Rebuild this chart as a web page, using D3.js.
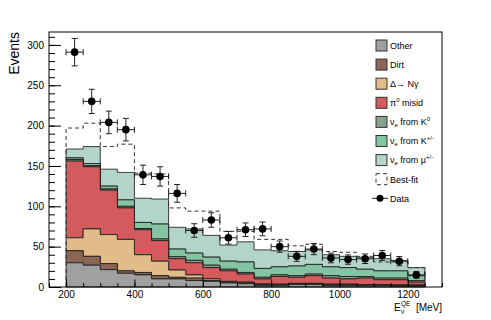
<!DOCTYPE html>
<html>
<head>
<meta charset="utf-8">
<script src="https://cdn.jsdelivr.net/npm/d3@7"></script>
<style>
  body { margin: 0; background: #fff; }
  svg { display: block; font-family: "Liberation Sans", Arial, sans-serif; }
  .axis text { font-size: 10px; fill: #000; }
  .axis line { stroke: #000; }
  .leg text { font-size: 9px; fill: #000; }
</style>
</head>
<body>
<div id="chart"></div>
<script>
// bins: 50 MeV wide, 200 -> 1250
const binEdges = d3.range(200, 1251, 50);
const binCenters = [225, 275, 325, 375, 425, 475, 525, 575, 625, 675, 725,
  775, 825, 875, 925, 975, 1025, 1075, 1125, 1175, 1225];

// stacked contributions per bin (events)
const other = [30, 27, 21.5, 17, 15, 10, 10, 8, 7, 5, 4, 2, 2, 3, 3, 2, 2, 1.5, 1.5, 1, 1];
const dirt  = [15, 11, 7.5, 3, 3, 4, 2, 3, 1, 1, 1, 1, 1, 1, 1, 1, 1, 1, 1, 1, 1];
const delta = [16, 34, 36, 39, 22, 18, 9, 4, 2, 1, 1, 1, 0.5, 0.5, 0.5, 0.5, 0.5, 0.5, 0.5, 0.5, 0.5];
const pi0   = [95, 77, 55, 39, 31, 25.5, 14, 15, 14, 13, 10, 6, 9.5, 7.5, 9.5, 7.5, 6.5, 8, 6, 6.5, 3.5];
const nueK0 = [2, 1.5, 1.5, 2, 1.5, 2, 2.5, 3, 3, 2, 2, 2, 2, 2, 2, 3, 3, 2, 2, 2, 2];
const nueKpm = [2, 2.5, 3.5, 8, 7.5, 18.5, 9.5, 9, 10, 10, 13, 11, 10, 12, 12, 11, 11, 9, 9, 9, 6];
const nueMu = [11, 21, 21, 34, 30, 31, 27, 30, 27, 20, 25, 23, 20, 18, 18, 15, 14, 15, 15, 13, 10];

const bestFit = [197, 203, 174, 177, 141, 140, 98, 94, 94, 69, 69, 59, 59, 51, 53, 44, 43, 38, 31, 31, 24];

const dataVals = [291, 230, 204, 195, 139, 137, 116, 70, 83, 61, 71, 72, 50, 38, 47, 36, 34, 35, 39, 32, 15];
const dataErr  = [17, 15, 14, 14, 12, 12, 11, 8.4, 9, 7.8, 8.4, 8.5, 7, 6.2, 6.9, 6, 5.8, 5.9, 6.2, 5.7, 3.9];

const xTicks = [200, 400, 600, 800, 1000, 1200];
const yTicks = [0, 50, 100, 150, 200, 250, 300];

const layers = [
  { key: "other", vals: other, color: "#a0a0a0" },
  { key: "dirt", vals: dirt, color: "#8c6555" },
  { key: "delta", vals: delta, color: "#e1bb88" },
  { key: "pi0", vals: pi0, color: "#d45a5e" },
  { key: "k0", vals: nueK0, color: "#86a28c" },
  { key: "kpm", vals: nueKpm, color: "#84c4a2" },
  { key: "mu", vals: nueMu, color: "#b3d4c8" }
];

const W = 491, H = 320;
const frame = { l: 49, t: 32, r: 442, b: 287 };

const svg = d3.select("#chart").append("svg").attr("width", W).attr("height", H);

const x = d3.scaleLinear().domain([150, 1300]).range([frame.l, frame.r]);
const y = d3.scaleLinear().domain([0, 316]).range([frame.b, frame.t]);

// stack
const table = binCenters.map((c, i) => {
  const row = { i };
  layers.forEach(L => row[L.key] = L.vals[i]);
  return row;
});
const stacked = d3.stack().keys(layers.map(L => L.key))(table);

// step points: one per edge, last edge repeats last bin
function stepPts(arr) {
  return binEdges.map((e, i) => ({ x: e, v: arr[Math.min(i, arr.length - 1)] }));
}

const area = d3.area().curve(d3.curveStepAfter)
  .x(d => x(d.x)).y0(d => y(d.v[0])).y1(d => y(d.v[1]));

const gStack = svg.append("g");
stacked.slice().reverse().forEach(s => {
  const L = layers.find(l => l.key === s.key);
  gStack.append("path")
    .datum(stepPts(s))
    .attr("d", area)
    .attr("fill", L.color)
    .attr("stroke", "#1e1e1e")
    .attr("stroke-opacity", 0.85)
    .attr("stroke-width", 1);
});

// best-fit dashed outline
const bfPts = [{ x: binEdges[0], v: 0 }].concat(stepPts(bestFit)).concat([{ x: binEdges[binEdges.length - 1], v: 0 }]);
const bfLine = d3.line().curve(d3.curveStepAfter).x(d => x(d.x)).y(d => y(d.v));
svg.append("path")
  .datum(bfPts)
  .attr("d", bfLine)
  .attr("fill", "none")
  .attr("stroke", "#333")
  .attr("stroke-width", 1)
  .attr("stroke-dasharray", "4,3");

// data points
const gData = svg.append("g").attr("stroke", "#222").attr("stroke-width", 1);
binCenters.forEach((c, i) => {
  const cx = x(c), cy = y(dataVals[i]);
  const xl = x(c - 25), xr = x(c + 25);
  const yt = y(dataVals[i] + dataErr[i]), yb = y(dataVals[i] - dataErr[i]);
  gData.append("line").attr("x1", xl).attr("x2", xr).attr("y1", cy).attr("y2", cy);
  gData.append("line").attr("x1", xl).attr("x2", xl).attr("y1", cy - 3).attr("y2", cy + 3);
  gData.append("line").attr("x1", xr).attr("x2", xr).attr("y1", cy - 3).attr("y2", cy + 3);
  gData.append("line").attr("x1", cx).attr("x2", cx).attr("y1", yt).attr("y2", yb);
  gData.append("line").attr("x1", cx - 3).attr("x2", cx + 3).attr("y1", yt).attr("y2", yt);
  gData.append("line").attr("x1", cx - 3).attr("x2", cx + 3).attr("y1", yb).attr("y2", yb);
});
svg.append("g").selectAll("circle")
  .data(binCenters)
  .join("circle")
  .attr("cx", d => x(d))
  .attr("cy", (d, i) => y(dataVals[i]))
  .attr("r", 3.8)
  .attr("fill", "#000");

// axes (ROOT style, ticks inside)
const yAxis = svg.append("g").attr("class", "axis").attr("transform", `translate(${frame.l},0)`)
  .call(d3.axisLeft(y).tickValues(yTicks).tickSizeInner(-12).tickSizeOuter(0).tickPadding(5).tickFormat(d3.format("d")));
const yMinor = svg.append("g").attr("class", "axis").attr("transform", `translate(${frame.l},0)`)
  .call(d3.axisLeft(y).tickValues(d3.range(0, 316, 10)).tickSize(-6).tickFormat(""));
const xAxis = svg.append("g").attr("class", "axis").attr("transform", `translate(0,${frame.b})`)
  .call(d3.axisBottom(x).tickValues(xTicks).tickSizeInner(-7.5).tickSizeOuter(0).tickPadding(4).tickFormat(d3.format("d")));
const xMinor = svg.append("g").attr("class", "axis").attr("transform", `translate(0,${frame.b})`)
  .call(d3.axisBottom(x).tickValues(d3.range(150, 1301, 50)).tickSize(-3.8).tickFormat(""));
[yAxis, yMinor, xAxis, xMinor].forEach(a => a.select(".domain").remove());

svg.append("rect")
  .attr("x", frame.l).attr("y", frame.t)
  .attr("width", frame.r - frame.l).attr("height", frame.b - frame.t)
  .attr("fill", "none").attr("stroke", "#000").attr("stroke-width", 1);

// titles
svg.append("text")
  .attr("transform", `translate(19,${frame.t}) rotate(-90)`)
  .attr("text-anchor", "end")
  .style("font-size", "14px")
  .text("Events");

const xt = svg.append("g").style("font-size", "10px");
xt.append("text").attr("x", 394).attr("y", 311).text("E");
xt.append("text").attr("x", 401).attr("y", 305.5).style("font-size", "6.5px").text("QE");
xt.append("text").attr("x", 401).attr("y", 314).style("font-size", "6.5px").text("ν");
xt.append("text").attr("x", 442).attr("y", 311).attr("text-anchor", "end").text("[MeV]");

// legend
const legItems = [
  { type: "box", color: "#a0a0a0", label: [["Other"]] },
  { type: "box", color: "#8c6555", label: [["Dirt"]] },
  { type: "box", color: "#e1bb88", label: [["Δ→ Nγ"]] },
  { type: "box", color: "#d45a5e", label: [["π"], ["0", "sup"], [" misid"]] },
  { type: "box", color: "#86a28c", label: [["ν"], ["e", "sub"], [" from K"], ["0", "sup"]] },
  { type: "box", color: "#84c4a2", label: [["ν"], ["e", "sub"], [" from K"], ["+/-", "sup"]] },
  { type: "box", color: "#b3d4c8", label: [["ν"], ["e", "sub"], [" from μ"], ["+/-", "sup"]] },
  { type: "dash", label: [["Best-fit"]] },
  { type: "data", label: [["Data"]] }
];
const leg = svg.append("g").attr("class", "leg");
legItems.forEach((it, i) => {
  const cy = 45.5 + i * 19.1;
  const g = leg.append("g");
  if (it.type === "box") {
    g.append("rect").attr("x", 376).attr("y", cy - 5.5).attr("width", 11).attr("height", 11)
      .attr("fill", it.color).attr("stroke", "#333").attr("stroke-width", 1);
  } else if (it.type === "dash") {
    g.append("rect").attr("x", 376).attr("y", cy - 5.5).attr("width", 11).attr("height", 11)
      .attr("fill", "none").attr("stroke", "#333").attr("stroke-width", 1).attr("stroke-dasharray", "4,3");
  } else {
    g.append("line").attr("x1", 372).attr("x2", 388).attr("y1", cy).attr("y2", cy)
      .attr("stroke", "#222").attr("stroke-width", 1);
    g.append("circle").attr("cx", 380).attr("cy", cy).attr("r", 3.5).attr("fill", "#000");
  }
  const t = g.append("text").attr("x", 390).attr("y", cy + 3.3);
  it.label.forEach(([s, kind]) => {
    const sp = t.append("tspan").text(s);
    if (kind === "sup") sp.style("font-size", "6px").attr("baseline-shift", "4");
    if (kind === "sub") sp.style("font-size", "6px").attr("baseline-shift", "-2");
  });
});
</script>
</body>
</html>
